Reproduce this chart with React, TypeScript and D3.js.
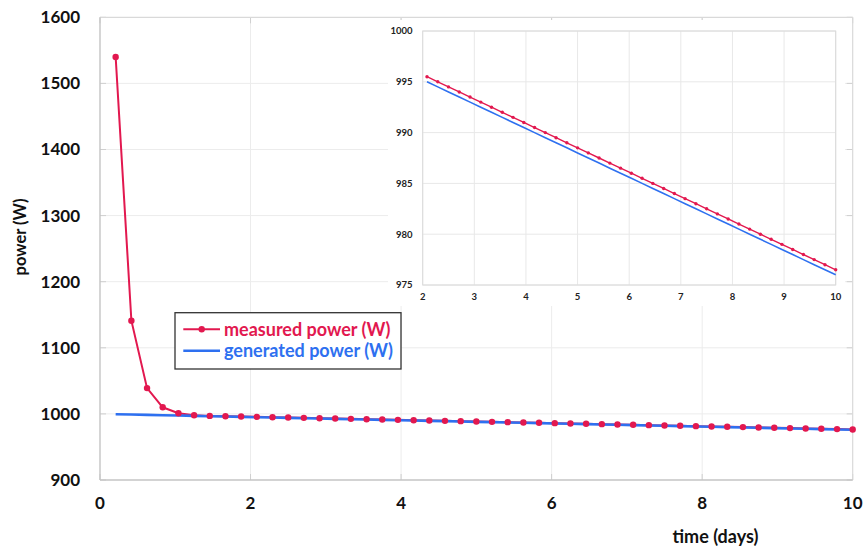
import React from 'react';
import * as d3 from 'd3';

const times = [0.208, 0.417, 0.625, 0.833, 1.042, 1.25, 1.458, 1.667, 1.875, 2.083, 2.292, 2.5, 2.708, 2.917, 3.125, 3.333, 3.542, 3.75, 3.958, 4.167, 4.375, 4.583, 4.792, 5, 5.208, 5.417, 5.625, 5.833, 6.042, 6.25, 6.458, 6.667, 6.875, 7.083, 7.292, 7.5, 7.708, 7.917, 8.125, 8.333, 8.542, 8.75, 8.958, 9.167, 9.375, 9.583, 9.792, 10];
const measured = [1540, 1141, 1039, 1010, 1001, 998, 997, 996.5, 996, 995.5, 995, 994.5, 994, 993.5, 993, 992.5, 992, 991.5, 991, 990.5, 990, 989.5, 989, 988.5, 988, 987.5, 987, 986.5, 986, 985.5, 985, 984.5, 984, 983.5, 983, 982.5, 982, 981.5, 981, 980.5, 980, 979.5, 979, 978.5, 978, 977.5, 977, 976.5];
const generated = [999.5, 999, 998.5, 998, 997.5, 997, 996.5, 996, 995.5, 995, 994.5, 994, 993.5, 993, 992.5, 992, 991.5, 991, 990.5, 990, 989.5, 989, 988.5, 988, 987.5, 987, 986.5, 986, 985.5, 985, 984.5, 984, 983.5, 983, 982.5, 982, 981.5, 981, 980.5, 980, 979.5, 979, 978.5, 978, 977.5, 977, 976.5, 976];
const mainXTicks = [0, 2, 4, 6, 8, 10];
const mainYTicks = [900, 1000, 1100, 1200, 1300, 1400, 1500, 1600];
const insetXTicks = [2, 3, 4, 5, 6, 7, 8, 9, 10];
const insetYTicks = [975, 980, 985, 990, 995, 1000];
const seriesNames = ['measured power (W)', 'generated power (W)'];
const xTitle = 'time (days)';
const yTitle = 'power (W)';

const RED = '#e2184f';
const BLUE = '#2e70f0';
const FONT = 'Lato, "Open Sans", sans-serif';

export default function App() {
  const x = d3.scaleLinear().domain([0, 10]).range([100, 852.7]);
  const y = d3.scaleLinear().domain([900, 1600]).range([480, 17.3]);
  const ix = d3.scaleLinear().domain([2, 10]).range([422.7, 835.7]);
  const iy = d3.scaleLinear().domain([975, 1000]).range([285, 31]);

  const pts = times.map((t, i) => ({ t, m: measured[i], g: generated[i] }));
  const lineM = d3.line<any>().x(d => x(d.t)).y(d => y(d.m));
  const lineG = d3.line<any>().x(d => x(d.t)).y(d => y(d.g));
  const ipts = pts.filter(d => d.t >= 2);
  const ilineM = d3.line<any>().x(d => ix(d.t)).y(d => iy(d.m));
  const ilineG = d3.line<any>().x(d => ix(d.t)).y(d => iy(d.g));

  const [x0, x1] = x.range();
  const [yb, yt] = y.range();
  const [ix0, ix1] = ix.range();
  const [iyb, iyt] = iy.range();

  return (
    <svg width={865} height={547} style={{ position: 'absolute', left: 0, top: 0, background: '#fff' }} fontFamily={FONT}>
      {/* main gridlines */}
      {mainYTicks.filter(v => v > 900 && v < 1600).map(v => (
        <line key={'gy' + v} x1={x0} x2={x1} y1={y(v)} y2={y(v)} stroke="#ececec" strokeWidth={1} />
      ))}
      {mainXTicks.filter(v => v > 0 && v < 10).map(v => (
        <line key={'gx' + v} x1={x(v)} x2={x(v)} y1={yt} y2={yb} stroke="#ececec" strokeWidth={1} />
      ))}
      {/* inner ticks */}
      {mainYTicks.map(v => (
        <g key={'ty' + v}>
          <line x1={x0} x2={x0 + 6} y1={y(v)} y2={y(v)} stroke="#cfcfcf" />
          <line x1={x1 - 6} x2={x1} y1={y(v)} y2={y(v)} stroke="#cfcfcf" />
        </g>
      ))}
      {mainXTicks.map(v => (
        <g key={'tx' + v}>
          <line x1={x(v)} x2={x(v)} y1={yb} y2={yb - 6} stroke="#cfcfcf" />
          <line x1={x(v)} x2={x(v)} y1={yt} y2={yt + 6} stroke="#cfcfcf" />
        </g>
      ))}
      {/* border */}
      <line x1={x0} x2={x1} y1={yt} y2={yt} stroke="#d9d9d9" strokeWidth={1.2} />
      <line x1={x1} x2={x1} y1={yt} y2={yb} stroke="#d9d9d9" strokeWidth={1.2} />
      <line x1={x0} x2={x0} y1={yt} y2={yb} stroke="#c4c4c4" strokeWidth={1.4} />
      <line x1={x0} x2={x1} y1={yb} y2={yb} stroke="#c4c4c4" strokeWidth={1.4} />

      {/* main series */}
      <path d={lineM(pts) || ''} fill="none" stroke={RED} strokeWidth={2} />
      <path d={lineG(pts) || ''} fill="none" stroke={BLUE} strokeWidth={2.6} />
      {pts.map((d, i) => (
        <circle key={'m' + i} cx={x(d.t)} cy={y(d.m)} r={3.2} fill={RED} />
      ))}

      {/* main tick labels */}
      {mainYTicks.map(v => (
        <text key={'ly' + v} x={80} y={y(v)} dy="0.35em" textAnchor="end" fontSize={17} fontWeight="bold" fill="#111">{v}</text>
      ))}
      {mainXTicks.map(v => (
        <text key={'lx' + v} x={x(v)} y={503} dy="0.35em" textAnchor="middle" fontSize={17} fontWeight="bold" fill="#111">{v}</text>
      ))}
      <text x={715.5} y={537} dy="0.35em" textAnchor="middle" fontSize={18} fontWeight="bold" fill="#111">{xTitle}</text>
      <text transform={`translate(20,237) rotate(-90)`} dy="0.35em" textAnchor="middle" fontSize={16.5} fontWeight="bold" fill="#111">{yTitle}</text>

      {/* inset */}
      <rect x={388} y={20} width={457} height={286} fill="#fff" />
      {insetYTicks.map(v => (
        <line key={'igy' + v} x1={ix0} x2={ix1} y1={iy(v)} y2={iy(v)} stroke="#e8e8e8" />
      ))}
      {insetXTicks.map(v => (
        <line key={'igx' + v} x1={ix(v)} x2={ix(v)} y1={iyt} y2={iyb} stroke="#e8e8e8" />
      ))}
      <rect x={ix0} y={iyt} width={ix1 - ix0} height={iyb - iyt} fill="none" stroke="#dadada" />
      <path d={ilineG(ipts) || ''} fill="none" stroke={BLUE} strokeWidth={1.6} />
      <path d={ilineM(ipts) || ''} fill="none" stroke={RED} strokeWidth={1.4} />
      {ipts.map((d, i) => (
        <circle key={'im' + i} cx={ix(d.t)} cy={iy(d.m)} r={1.7} fill={RED} />
      ))}
      {insetYTicks.map(v => (
        <text key={'ily' + v} x={412.5} y={iy(v)} dy="0.35em" textAnchor="end" fontSize={9.5} fontWeight="bold" fill="#222">{v}</text>
      ))}
      {insetXTicks.map(v => (
        <text key={'ilx' + v} x={ix(v)} y={297} dy="0.35em" textAnchor="middle" fontSize={9.5} fontWeight="bold" fill="#222">{v}</text>
      ))}

      {/* legend */}
      <rect x={175} y={312.7} width={226} height={56.3} fill="#fff" stroke="#333" strokeWidth={1.3} />
      <line x1={183.3} x2={220} y1={329.3} y2={329.3} stroke={RED} strokeWidth={2} />
      <circle cx={201.7} cy={329.3} r={3.2} fill={RED} />
      <line x1={183.3} x2={220} y1={350.7} y2={350.7} stroke={BLUE} strokeWidth={2.6} />
      <text x={224} y={329.3} dy="0.35em" fontSize={18} fontWeight="bold" fill={RED}>{seriesNames[0]}</text>
      <text x={224} y={350.7} dy="0.35em" fontSize={18} fontWeight="bold" fill={BLUE}>{seriesNames[1]}</text>
    </svg>
  );
}
